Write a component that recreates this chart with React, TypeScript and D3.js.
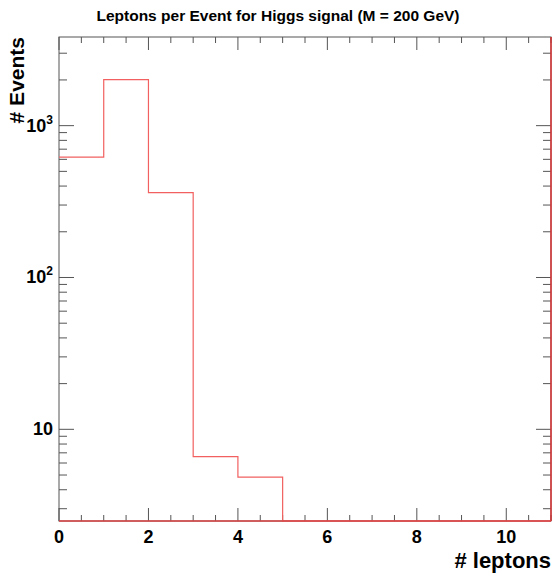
import React from "react";
import * as d3 from "d3";

// Bin edges (number of leptons) and event counts per bin
const binEdges = [0, 1, 2, 3, 4, 5, 6, 7, 8, 9, 10, 11];
const binCounts = [620, 2010, 362, 6.6, 4.85, 0, 0, 0, 0, 0, 0];
const xTickValues = [0, 2, 4, 6, 8, 10];
const yTickValues = [10, 100, 1000];
const yTickExponents = ["", "2", "3"];

const W = 556;
const H = 577;
const margin = { left: 59, right: 5, top: 37, bottom: 56 };
const yMin = 2.49;
const yMax = 3836;

export default function App() {
  const x = d3.scaleLinear().domain([0, 11]).range([margin.left, W - margin.right]);
  const y = d3.scaleLog().domain([yMin, yMax]).range([H - margin.bottom, margin.top]);
  const x0 = x(0), x1 = x(11), yb = y(yMin), yt = y(yMax);

  // Step outline of the histogram, clipped at the frame bottom
  const pts: [number, number][] = [];
  binCounts.forEach((c, i) => {
    const yy = c > yMin ? y(c) : yb;
    pts.push([x(binEdges[i]), yy]);
    pts.push([x(binEdges[i + 1]), yy]);
  });
  const path = d3.line()(pts) || "";

  const xMinor = d3.range(0, 11.01, 0.5);
  const yMinor: number[] = [];
  for (let d = 1; d <= 1000; d *= 10)
    for (let k = 1; k < 10; k++) {
      const v = d * k;
      if (v >= yMin && v <= yMax && k !== 1) yMinor.push(v);
    }

  const axisColor = "#555";
  const font = "'Liberation Sans', Arial, sans-serif";

  return (
    <svg width={W} height={H} style={{ position: "absolute", left: 0, top: 0 }}>
      <rect width={W} height={H} fill="white" />
      <text x={W / 2} y={21} textAnchor="middle" fontFamily={font} fontWeight="bold" fontSize={15.5}>
        Leptons per Event for Higgs signal (M = 200 GeV)
      </text>

      {/* x ticks, bottom and top */}
      {xMinor.map((v, i) => {
        const major = Math.abs(v % 2) < 1e-9;
        const len = major ? 13 : 6;
        return (
          <g key={"xt" + i} stroke={axisColor} strokeWidth={1}>
            <line x1={x(v)} x2={x(v)} y1={yb} y2={yb - len} />
            <line x1={x(v)} x2={x(v)} y1={yt} y2={yt + len} />
          </g>
        );
      })}
      {/* y ticks, left and right */}
      {yTickValues.map((v) => (
        <g key={"ym" + v} stroke={axisColor} strokeWidth={1}>
          <line x1={x0} x2={x0 + 15} y1={y(v)} y2={y(v)} />
          <line x1={x1} x2={x1 - 15} y1={y(v)} y2={y(v)} />
        </g>
      ))}
      {yMinor.map((v) => (
        <g key={"yn" + v} stroke={axisColor} strokeWidth={1}>
          <line x1={x0} x2={x0 + 8} y1={y(v)} y2={y(v)} />
          <line x1={x1} x2={x1 - 8} y1={y(v)} y2={y(v)} />
        </g>
      ))}

      {/* frame */}
      <rect x={x0} y={yt} width={x1 - x0} height={yb - yt} fill="none" stroke={axisColor} strokeWidth={1} />

      {/* histogram */}
      <path d={path} fill="none" stroke="#f26060" strokeWidth={1.2} />
      <line x1={x1} x2={x1} y1={yb} y2={yt} stroke="#d33" strokeWidth={1.5} />
      <line x1={x0} x2={x1} y1={yb} y2={yb} stroke="#d44" strokeWidth={1.5} />

      {/* tick labels */}
      {xTickValues.map((v) => (
        <text key={"xl" + v} x={x(v)} y={yb + 22} textAnchor="middle" fontFamily={font} fontWeight="bold" fontSize={18}>
          {v}
        </text>
      ))}
      {yTickValues.map((v, i) => (
        <text key={"yl" + v} x={x0 - 6} y={y(v) + 6} textAnchor="end" fontFamily={font} fontWeight="bold" fontSize={18}>
          10
          {yTickExponents[i] && (
            <tspan dy={-8} fontSize={12}>
              {yTickExponents[i]}
            </tspan>
          )}
        </text>
      ))}

      {/* axis titles */}
      <text x={x1} y={568} textAnchor="end" fontFamily={font} fontWeight="bold" fontSize={22}>
        # leptons
      </text>
      <text
        transform={`translate(24, ${yt}) rotate(-90)`}
        textAnchor="end"
        fontFamily={font}
        fontWeight="bold"
        fontSize={21}
      >
        # Events
      </text>
    </svg>
  );
}
